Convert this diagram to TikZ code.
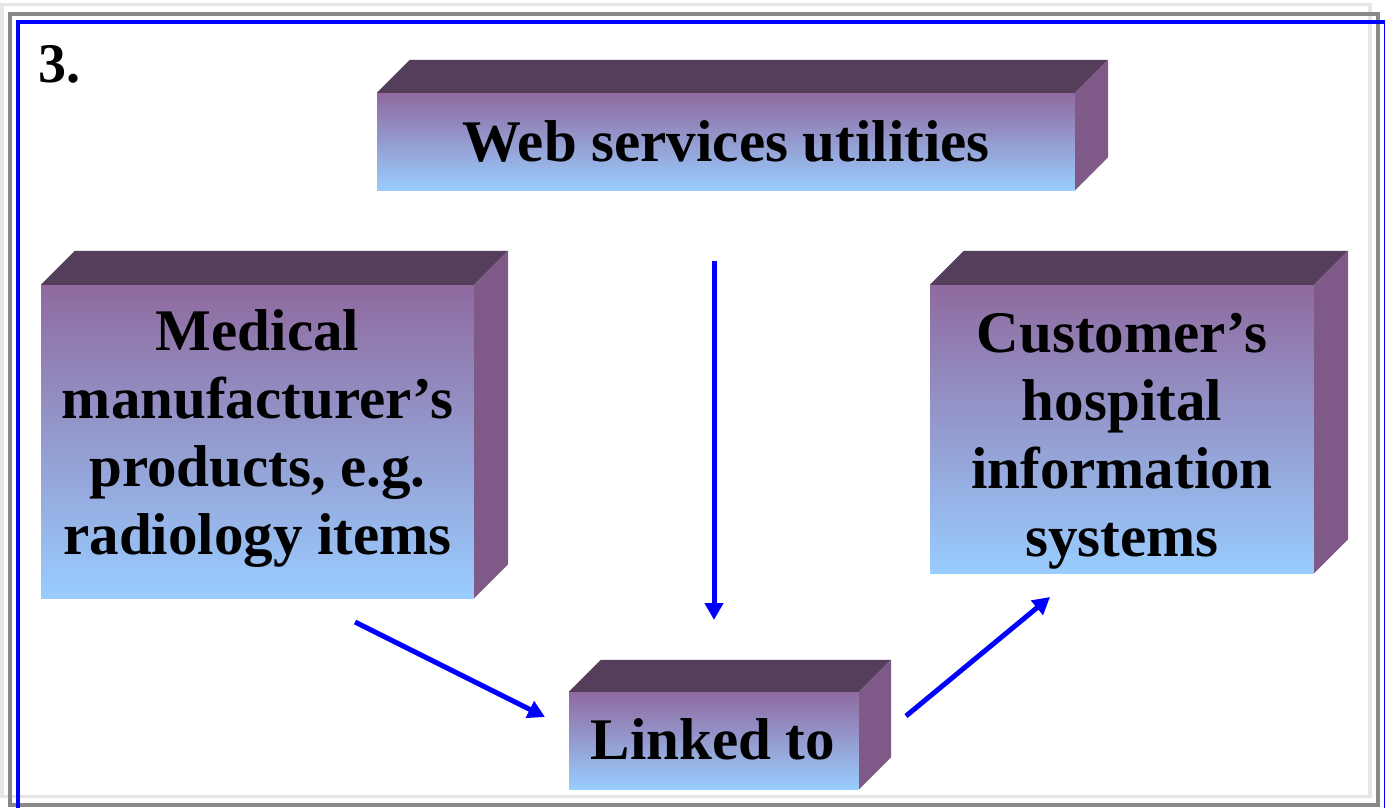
\documentclass[tikz,border=0pt]{standalone}
\usepackage{fontspec}
\setmainfont{Liberation Serif}
\usetikzlibrary{arrows.meta}
\definecolor{topface}{RGB}{85,61,92}
\definecolor{sideface}{RGB}{127,90,136}
\definecolor{fronttop}{RGB}{143,106,159}
\definecolor{frontbot}{RGB}{153,204,255}
\definecolor{arrowblue}{RGB}{0,0,255}
\definecolor{lightframe}{RGB}{230,230,230}
\definecolor{darkframe}{RGB}{136,136,136}
\newcommand\boxsides[2]{%
  \fill[topface] (#1.north west) -- ++(#2,-#2) -- ([shift={(#2,-#2)}]#1.north east) -- (#1.north east) -- cycle;
  \fill[sideface] (#1.north east) -- ++(#2,-#2) -- ([shift={(#2,-#2)}]#1.south east) -- (#1.south east) -- cycle;
}
\tikzset{
  front/.style={draw=none, top color=fronttop, bottom color=frontbot, inner sep=0pt},
  boxtext/.style={inner sep=0pt, align=center, font=\fontsize{59}{68}\selectfont\bfseries},
  flow/.style={draw=arrowblue, line width=5pt, -{Triangle[length=17pt,width=18pt]}},
}
\begin{document}
\begin{tikzpicture}[x=1pt,y=-1pt]
\useasboundingbox (0,0) rectangle (1385,807);
\clip (0,0) rectangle (1385,807);
\fill[white] (0,0) rectangle (1385,807);
\draw[lightframe, line width=3.5pt] (2,4.5) rectangle (1370,796.5);
\draw[darkframe, line width=4pt] (10,13.5) rectangle (1377.5,805);
\draw[arrowblue, line width=4pt] (18,21.5) rectangle (1385.5,830);

\node[anchor=base west, font=\fontsize{56}{66}\selectfont\bfseries, inner sep=0pt] (num) at (38,82) {3.};

\node[front, minimum width=698pt, minimum height=97pt] (web) at (726,141.5) {};
\boxsides{web}{33}
\node[boxtext] (webT) at (726,141.5) {Web services utilities};

\node[front, minimum width=433pt, minimum height=313pt] (med) at (257.5,441.5) {};
\boxsides{med}{34}
\node[boxtext] (medT) at (257.5,438.5) {Medical\\manufacturer’s\\products, e.g.\\radiology items};

\node[front, minimum width=384pt, minimum height=288pt] (cust) at (1122,429) {};
\boxsides{cust}{34}
\node[boxtext] (custT) at (1122,441) {Customer’s\\hospital\\information\\systems};

\node[front, minimum width=290pt, minimum height=97pt] (link) at (714,740.5) {};
\boxsides{link}{32}
\node[boxtext] (linkT) at (713,739) {Linked to};

\coordinate (vs) at (714,261);
\coordinate (ve) at (714,620);
\coordinate (ls) at (355,622);
\coordinate (le) at (545,717);
\coordinate (rs) at (906,716);
\coordinate (re) at (1050,597);
\draw[flow] (vs) -- (ve);
\draw[flow] (ls) -- (le);
\draw[flow] (rs) -- (re);
\end{tikzpicture}
\end{document}
